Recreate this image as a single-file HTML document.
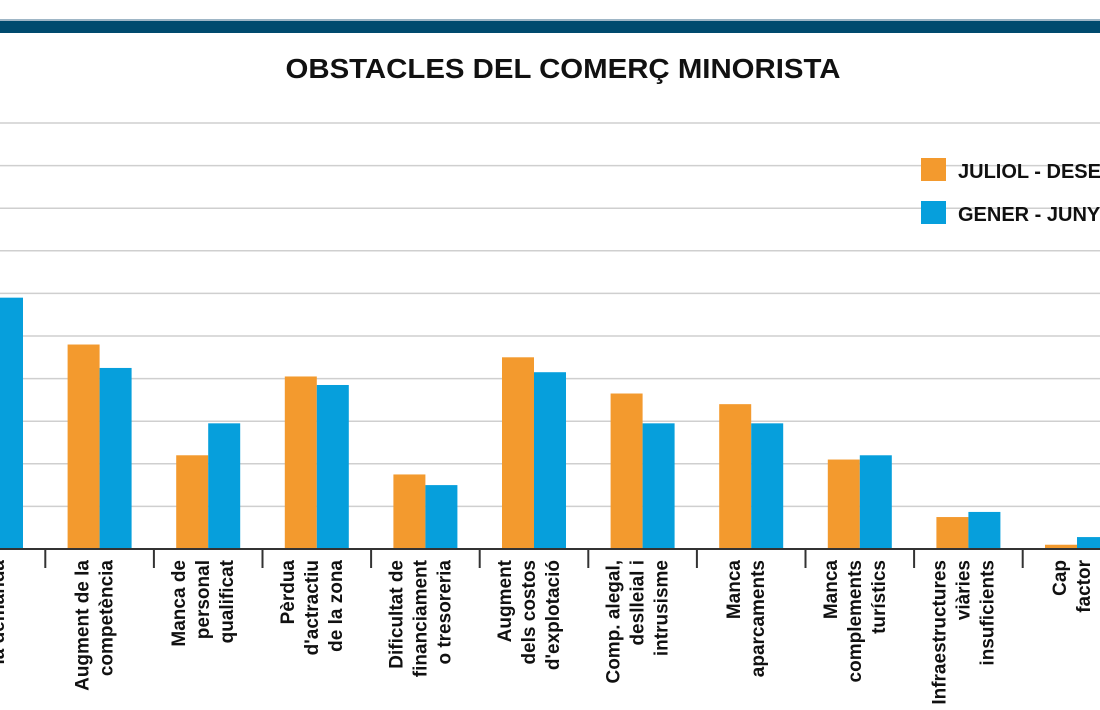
<!DOCTYPE html>
<html><head><meta charset="utf-8">
<style>
html,body{margin:0;padding:0;background:#fff;}
svg{display:block;font-family:"Liberation Sans",Arial,sans-serif;}
</style></head>
<body>
<svg id="chart" width="1100" height="710" viewBox="0 0 1100 710">
  <rect x="0" y="19" width="1100" height="2" fill="#9fb6c6"/>
  <rect x="0" y="21" width="1100" height="12" fill="#004a6e"/>
  <text x="563" y="78" text-anchor="middle" font-size="28" font-weight="bold" fill="#111" textLength="555" lengthAdjust="spacingAndGlyphs">OBSTACLES DEL COMERÇ MINORISTA</text>
  <g id="grid"></g>
  <g id="bars"></g>
  <g id="axis"></g>
  <g>
    <rect x="921" y="158" width="25" height="23" fill="#f39a2e"/>
    <text x="958" y="178" font-size="20" font-weight="bold" fill="#111">JULIOL - DESEMBRE</text>
    <rect x="921" y="201" width="25" height="23" fill="#069fdc"/>
    <text x="958" y="221" font-size="20" font-weight="bold" fill="#111">GENER - JUNY</text>
  </g>
</svg>
<script>
const categories = [
  ["Caiguda de","la demanda"],
  ["Augment de la","competència"],
  ["Manca de","personal","qualificat"],
  ["Pèrdua","d'actractiu","de la zona"],
  ["Dificultat de","financiament","o tresoreria"],
  ["Augment","dels costos","d'explotació"],
  ["Comp. alegal,","deslleial i","intrusisme"],
  ["Manca","aparcaments"],
  ["Manca","complements","turístics"],
  ["Infraestructures","viàries","insuficients"],
  ["Cap","factor"]
];
const julDes = [6.5, 4.8, 2.2, 4.05, 1.75, 4.5, 3.65, 3.4, 2.1, 0.75, 0.1];
const genJun = [5.9, 4.25, 2.95, 3.85, 1.5, 4.15, 2.95, 2.95, 2.2, 0.87, 0.28];
const gridTicks = [1,2,3,4,5,6,7,8,9,10];

const NS = "http://www.w3.org/2000/svg";
const base = 549, unit = 42.6, x0 = -9, step = 108.6, bw = 32;
const y = v => base - v * unit;
const xc = i => x0 + i * step;
function mk(tag, attrs, parent){const e=document.createElementNS(NS,tag);for(const k in attrs)e.setAttribute(k,attrs[k]);parent.appendChild(e);return e;}
const grid = document.getElementById('grid'), bars = document.getElementById('bars'), axis = document.getElementById('axis');

gridTicks.forEach(t=>{
  const l = mk('line',{x1:0,x2:1100,y1:y(t),y2:y(t),stroke:'#cfcfcf','stroke-width':1.5},grid);
  
  
});
categories.forEach((c,i)=>{
  const cx = xc(i);
  const a = mk('rect',{x:cx-bw,y:y(julDes[i]),width:bw,height:base-y(julDes[i]),fill:'#f39a2e'},bars);
  
  
  const b = mk('rect',{x:cx,y:y(genJun[i]),width:bw,height:base-y(genJun[i]),fill:'#069fdc'},bars);
  
  
  const n = c.length;
  c.forEach((line,k)=>{
    const gx = cx - 6 + (k - (n-1)/2) * 24 + 7;
    const t = mk('text',{x:0,y:0,transform:`translate(${gx},560) rotate(-90)`,'text-anchor':'end','font-size':19,'font-weight':'bold',fill:'#111'},axis);
    t.textContent = line;
    
    
  });
  const tk = mk('line',{x1:cx+step/2,x2:cx+step/2,y1:base,y2:568,stroke:'#333','stroke-width':2},axis);
  
  
});
const bl = mk('line',{x1:0,x2:1100,y1:base,y2:base,stroke:'#333','stroke-width':2},axis);


</script>
</body></html>
